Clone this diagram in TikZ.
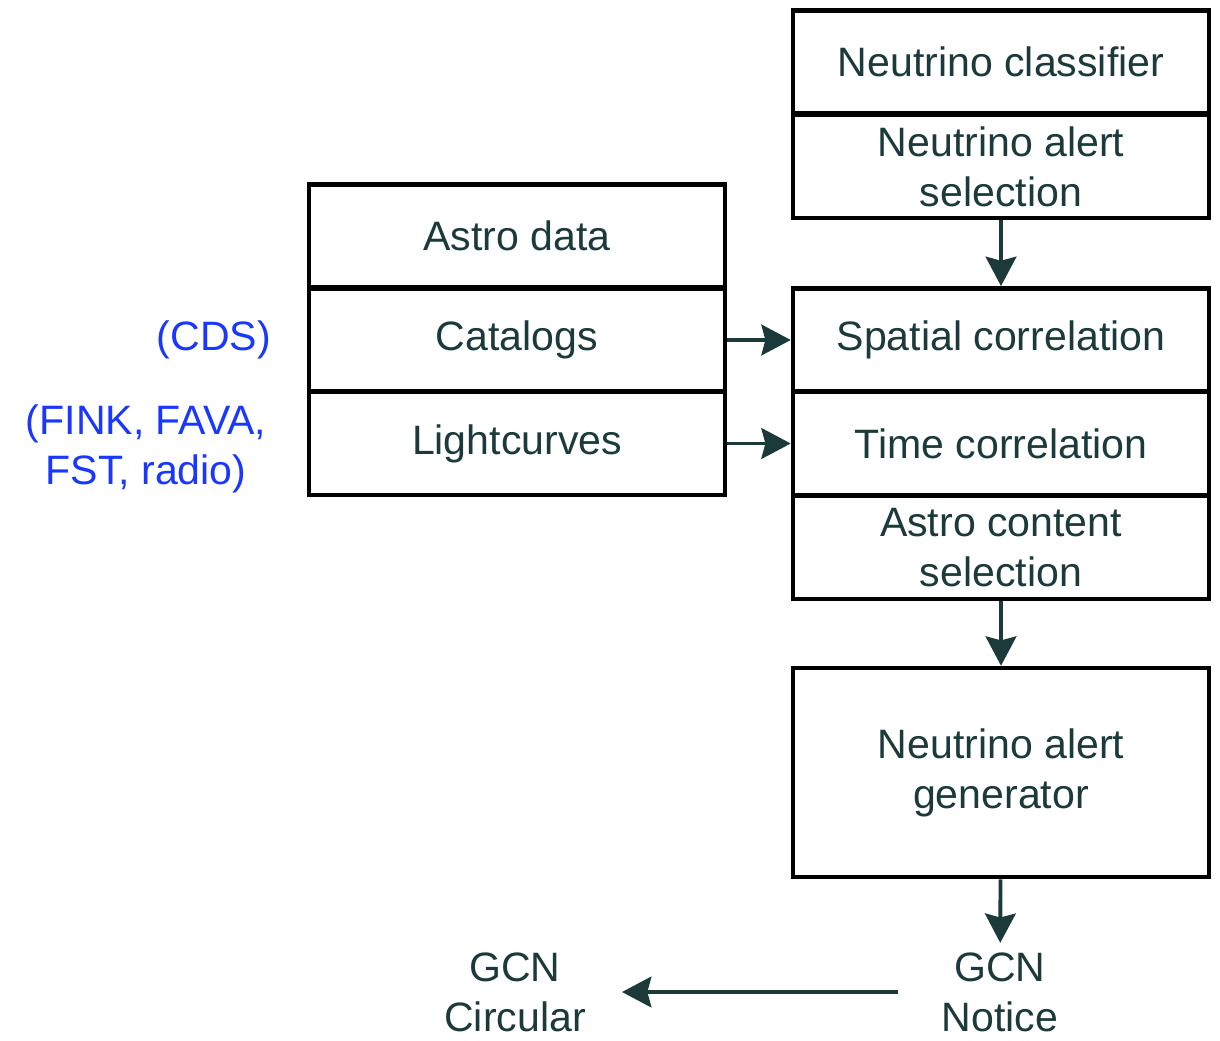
\documentclass[tikz,border=0pt]{standalone}
\usepackage{fontspec}
\setmainfont{Liberation Sans}
\usetikzlibrary{arrows.meta}
\definecolor{txt}{RGB}{28,58,58}
\definecolor{blu}{RGB}{25,55,255}
\begin{document}
\begin{tikzpicture}[x=0.75pt,y=-0.75pt,
  every node/.style={font=\fontsize{30.8}{37.5}\selectfont, align=center},
  box/.style={draw=black, line width=3.4pt, text=txt, minimum width=312pt, minimum height=77.5pt, inner sep=0pt},
  tall/.style={minimum height=156.75pt},
  arr/.style={draw=txt, line width=2.9pt, -{Stealth[length=22pt,width=23pt,inset=3pt]}},
  note/.style={text=blu},
  gcnout/.style={text=txt, inner ysep=0pt}]
\useasboundingbox (0,0) rectangle (1220,1041);
% right column
\node[box] (nc) at (1001,62) {Neutrino classifier};
\node[box] (nas) at (1001,166.5) {Neutrino alert\\selection};
\node[box] (sc) at (1001,340) {Spatial correlation};
\node[box] (tc) at (1001,443.5) {Time correlation};
\node[box] (acs) at (1001,547.5) {Astro content\\selection};
\node[box, tall] (nag) at (1001,772.5) {Neutrino alert\\generator};
% left column
\node[box] (ad) at (517,236) {Astro data};
\node[box] (cat) at (517,340) {Catalogs};
\node[box] (lc) at (517,443.5) {Lightcurves};
% blue notes
\node[note, anchor=east, inner sep=0pt] (cds) at (271,340) {(CDS)};
\node[note, inner sep=0pt] (fink) at (146,449) {(FINK, FAVA,\\FST, radio)};
% outputs
\node[gcnout, inner xsep=33pt] (notice) at (1000,992) {GCN\\Notice};
\node[gcnout, inner xsep=27pt] (circ) at (515,992) {GCN\\Circular};
% connectors
\draw[arr] (nas) -- (sc);
\draw[arr] (cat) -- (sc);
\draw[arr] (lc) -- (tc);
\draw[arr] (acs) -- (nag);
\draw[arr, shorten >=7pt] (nag) -- (notice);
\draw[arr] (notice) -- (circ);
\end{tikzpicture}
\end{document}
